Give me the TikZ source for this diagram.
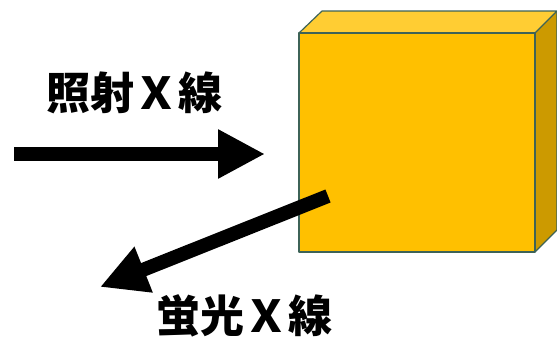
\documentclass[tikz,border=0pt]{standalone}
\usepackage{fontspec}
\newfontfamily\cjk{Noto Sans CJK JP}
\usetikzlibrary{arrows.meta}
\definecolor{cubefront}{HTML}{FFC000}
\definecolor{cubetop}{HTML}{FFCD33}
\definecolor{cubeside}{HTML}{CC9A00}
\definecolor{cubeedge}{HTML}{3D6357}
\tikzset{
  face/.style={draw=cubeedge, line width=1.2pt, line join=round},
  bigarrow/.style={line width=14pt, -{Triangle[length=47pt,width=46pt]}, black},
  label/.style={font=\cjk\bfseries\fontsize{44}{48}\selectfont, inner sep=0pt}
}
\begin{document}
\begin{tikzpicture}[x=1pt,y=-1pt]
\useasboundingbox (0,0) rectangle (557,338);
% cube
\coordinate (fa) at (299,33);
\coordinate (fb) at (535,33);
\coordinate (fc) at (535,252);
\coordinate (fd) at (299,252);
\coordinate (ba) at (322,11);
\coordinate (bb) at (557,11);
\coordinate (bc) at (557,230);
\fill[cubetop] (fa) -- (ba) -- (bb) -- (fb) -- cycle;
\fill[cubeside] (fb) -- (bb) -- (bc) -- (fc) -- cycle;
\fill[cubefront] (fa) rectangle (fc);
\draw[face] (fa) -- (ba) -- (bb) -- (fb);
\draw[face] (bb) -- (bc) -- (fc);
\draw[face] (fa) rectangle (fc);
% arrows
\coordinate (in0) at (14,154);
\coordinate (in1) at (265,154);
\draw[bigarrow] (in0) -- (in1);
\coordinate (out0) at (328,196);
\coordinate (out1) at (100,287);
\draw[bigarrow] (out0) -- (out1);
% labels
\node[label] (t1) at (134,93) {照射Ｘ線};
\node[label] (t2) at (244,316) {蛍光Ｘ線};
\end{tikzpicture}
\end{document}
